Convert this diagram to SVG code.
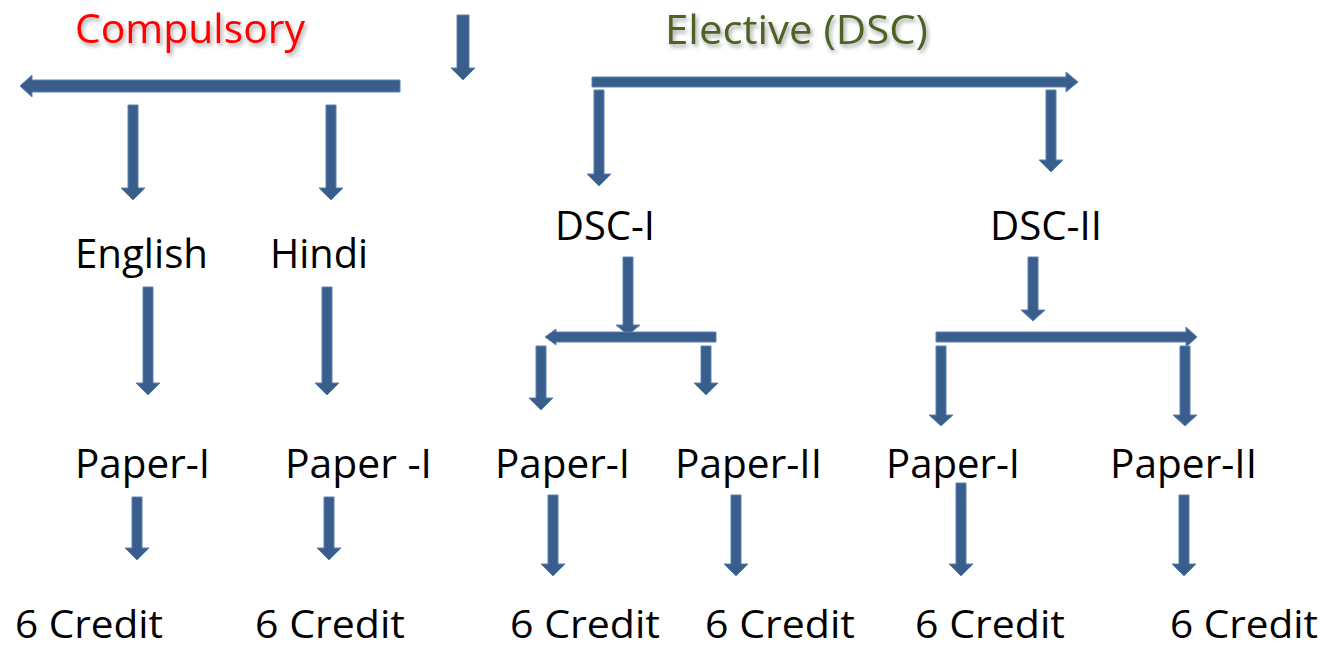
<svg xmlns="http://www.w3.org/2000/svg" width="1338" height="647" viewBox="0 0 1338 647">
<defs>
<filter id="sh" x="-10%" y="-30%" width="130%" height="170%">
<feDropShadow dx="2" dy="3" stdDeviation="2" flood-color="#000" flood-opacity="0.35"/>
</filter>
</defs>
<style>
.a{fill:#3A5E8C;stroke:#5B82B5;stroke-width:1}
.t{font-family:"Open Sans","Liberation Sans",sans-serif;font-size:41px;fill:#000}
.c{font-family:"Open Sans","Liberation Sans",sans-serif;font-size:39px;fill:#000}
.h{font-family:"Open Sans","Liberation Sans",sans-serif;font-size:40px;filter:url(#sh)}
</style>
<rect width="1338" height="647" fill="#fff"/>
<g id="connectors">
<polygon class="a" points="457,15 469,15 469,68 475,68 463,80 451,68 457,68"/>
<polygon class="a" points="400,80 400,92 32,92 32,97 20,86 32,75 32,80"/>
<polygon class="a" points="128,105 138,105 138,188 145,188 133,200 121,188 128,188"/>
<polygon class="a" points="326,105 336,105 336,188 343,188 331,200 319,188 326,188"/>
<polygon class="a" points="143,287 153,287 153,383 160,383 148,395 136,383 143,383"/>
<polygon class="a" points="322,287 332,287 332,383 339,383 327,395 315,383 322,383"/>
<polygon class="a" points="132,497 142,497 142,548 149,548 137,560 125,548 132,548"/>
<polygon class="a" points="324,497 334,497 334,548 341,548 329,560 317,548 324,548"/>
<polygon class="a" points="592,77 1066,77 1066,72 1078,82 1066,92 1066,87 592,87"/>
<polygon class="a" points="594,90 604,90 604,174 611,174 599,186 587,174 594,174"/>
<polygon class="a" points="1046,90 1056,90 1056,160 1063,160 1051,172 1039,160 1046,160"/>
<polygon class="a" points="623,257 633,257 633,325 640,325 628,335 616,325 623,325"/>
<polygon class="a" points="716,332 716,342 556,342 556,345 545,337 556,329 556,332"/>
<polygon class="a" points="536,346 546,346 546,398 553,398 541,410 529,398 536,398"/>
<polygon class="a" points="701,346 711,346 711,383 718,383 706,395 694,383 701,383"/>
<polygon class="a" points="1028,257 1038,257 1038,310 1045,310 1033,321 1021,310 1028,310"/>
<polygon class="a" points="936,332 1186,332 1186,327 1197,337 1186,347 1186,342 936,342"/>
<polygon class="a" points="936,346 946,346 946,415 953,415 941,426 929,415 936,415"/>
<polygon class="a" points="1180,346 1190,346 1190,415 1197,415 1185,426 1173,415 1180,415"/>
<polygon class="a" points="548,495 558,495 558,564 565,564 553,576 541,564 548,564"/>
<polygon class="a" points="731,495 741,495 741,564 748,564 736,576 724,564 731,564"/>
<polygon class="a" points="956,483 966,483 966,564 973,564 961,576 949,564 956,564"/>
<polygon class="a" points="1179,495 1189,495 1189,564 1196,564 1184,576 1172,564 1179,564"/>
</g>
<g id="title-compulsory"><text class="h" x="75" y="43" fill="#FF0000" textLength="230" lengthAdjust="spacingAndGlyphs">Compulsory</text></g>
<g id="title-elective"><text class="h" x="665" y="44" fill="#4F6228" textLength="263" lengthAdjust="spacingAndGlyphs">Elective (DSC)</text></g>
<g id="english"><text class="t" x="75" y="268" textLength="133" lengthAdjust="spacingAndGlyphs">English</text></g>
<g id="hindi"><text class="t" x="270" y="268" textLength="98" lengthAdjust="spacingAndGlyphs">Hindi</text></g>
<g id="dsc1"><text class="t" x="555" y="240" textLength="100" lengthAdjust="spacingAndGlyphs">DSC-I</text></g>
<g id="dsc2"><text class="t" x="990" y="240" textLength="112" lengthAdjust="spacingAndGlyphs">DSC-II</text></g>
<g id="p1"><text class="t" x="75" y="478" textLength="135" lengthAdjust="spacingAndGlyphs">Paper-I</text></g>
<g id="p2"><text class="t" x="285" y="478" textLength="147" lengthAdjust="spacingAndGlyphs">Paper -I</text></g>
<g id="p3"><text class="t" x="495" y="478" textLength="135" lengthAdjust="spacingAndGlyphs">Paper-I</text></g>
<g id="p4"><text class="t" x="675" y="478" textLength="147" lengthAdjust="spacingAndGlyphs">Paper-II</text></g>
<g id="p5"><text class="t" x="886" y="478" textLength="134" lengthAdjust="spacingAndGlyphs">Paper-I</text></g>
<g id="p6"><text class="t" x="1110" y="478" textLength="147" lengthAdjust="spacingAndGlyphs">Paper-II</text></g>
<g id="c1"><text class="c" x="15" y="638" textLength="148" lengthAdjust="spacingAndGlyphs">6 Credit</text></g>
<g id="c2"><text class="c" x="255" y="638" textLength="150" lengthAdjust="spacingAndGlyphs">6 Credit</text></g>
<g id="c3"><text class="c" x="510" y="638" textLength="150" lengthAdjust="spacingAndGlyphs">6 Credit</text></g>
<g id="c4"><text class="c" x="705" y="638" textLength="150" lengthAdjust="spacingAndGlyphs">6 Credit</text></g>
<g id="c5"><text class="c" x="915" y="638" textLength="150" lengthAdjust="spacingAndGlyphs">6 Credit</text></g>
<g id="c6"><text class="c" x="1170" y="638" textLength="148" lengthAdjust="spacingAndGlyphs">6 Credit</text></g>
</svg>
